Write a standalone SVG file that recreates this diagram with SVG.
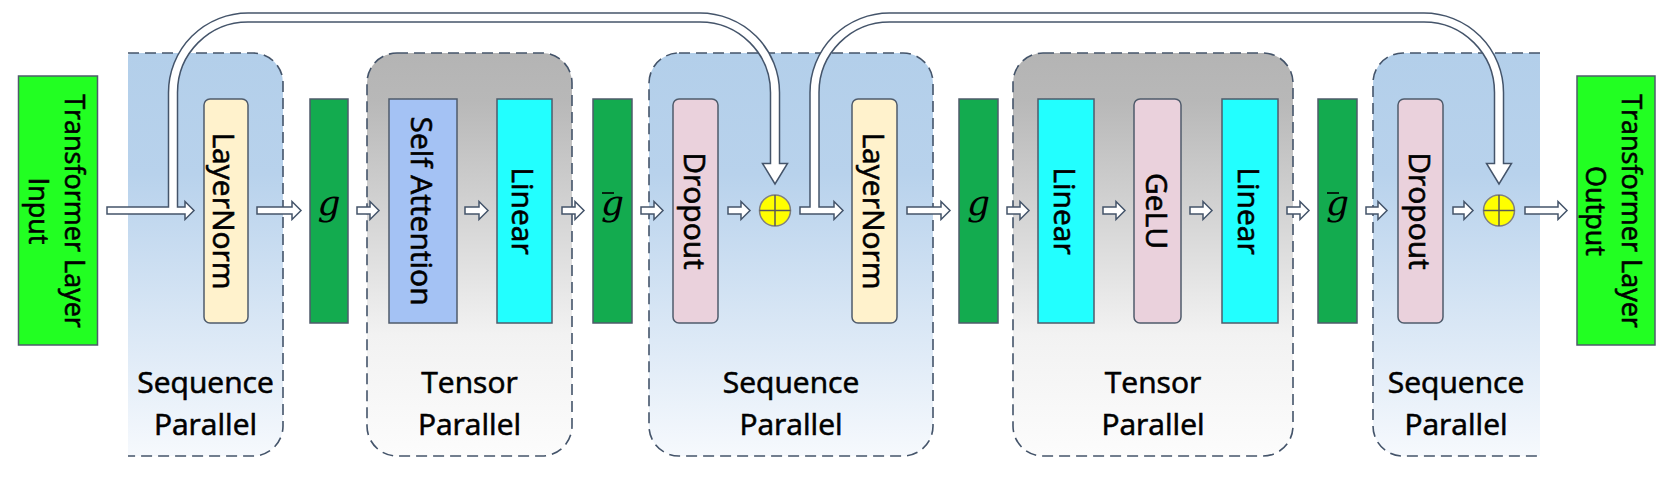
<svg xmlns="http://www.w3.org/2000/svg" width="1677" height="482" viewBox="0 0 1677 482">
<defs>
<linearGradient id="gSP" x1="0" y1="0" x2="0" y2="1">
<stop offset="0" stop-color="#b3cfea"/>
<stop offset="0.3" stop-color="#b8d2ec"/>
<stop offset="1" stop-color="#f6f9fd"/>
</linearGradient>
<linearGradient id="gTP" x1="0" y1="0" x2="0" y2="1">
<stop offset="0" stop-color="#b4b4b4"/>
<stop offset="0.12" stop-color="#b8b8b8"/>
<stop offset="0.7" stop-color="#f2f2f2"/>
<stop offset="1" stop-color="#fcfcfc"/>
</linearGradient>
</defs>
<style>
.sp{fill:url(#gSP);stroke:none}
.tp{fill:url(#gTP);stroke:none}
.dash{fill:none;stroke:#44546a;stroke-width:1.6;stroke-dasharray:11 6}
.lbl,.vt,.io{font-family:"Open Sans","Liberation Sans",sans-serif;font-size:30px;fill:#000;stroke:#000;stroke-width:0.6;text-anchor:middle}
.io{font-size:27px}
.box{stroke:#4f5b6b;stroke-width:1.5}
.io-box{fill:#22ff22}
.ln{fill:#fff2cc}
.dr{fill:#ead1dc}
.sa{fill:#a4c2f4}
.li{fill:#22ffff}
.gg{fill:#13ab4f}
.gt{font-family:"DejaVu Serif","Liberation Serif",serif;font-style:italic;font-size:36px;fill:#000;text-anchor:middle}
.bar{stroke:#000;stroke-width:1.6}
.arr{fill:#fff;stroke:#44546a;stroke-width:1.5;stroke-linejoin:miter}
.sko{fill:none;stroke:#44546a;stroke-width:10.5}
.ski{fill:none;stroke:#fff;stroke-width:7.5}
.plus{fill:#ffff00;stroke:#7f7f7f;stroke-width:1.5}
.cross{stroke:#595959;stroke-width:1.5}
</style>

<g id="sp1">
<path class="sp" d="M128,56 Q128,53 131,53 H253 A30,30 0 0 1 283,83 V426 A30,30 0 0 1 253,456 H128 Z"/>
<path class="dash" d="M128,53 H253 A30,30 0 0 1 283,83 V426 A30,30 0 0 1 253,456 H128"/>
<text class="lbl" x="205.5" y="393">Sequence</text>
<text class="lbl" x="205.5" y="435">Parallel</text>
</g>
<g id="tp1">
<rect class="tp" x="367" y="53" width="205" height="403" rx="30"/>
<rect class="dash" x="367" y="53" width="205" height="403" rx="30"/>
<text class="lbl" x="469.5" y="393">Tensor</text>
<text class="lbl" x="469.5" y="435">Parallel</text>
</g>
<g id="sp2">
<rect class="sp" x="649" y="53" width="284" height="403" rx="30"/>
<rect class="dash" x="649" y="53" width="284" height="403" rx="30"/>
<text class="lbl" x="791" y="393">Sequence</text>
<text class="lbl" x="791" y="435">Parallel</text>
</g>
<g id="tp2">
<rect class="tp" x="1013" y="53" width="280" height="403" rx="30"/>
<rect class="dash" x="1013" y="53" width="280" height="403" rx="30"/>
<text class="lbl" x="1153" y="393">Tensor</text>
<text class="lbl" x="1153" y="435">Parallel</text>
</g>
<g id="sp3">
<path class="sp" d="M1540,53 H1403 A30,30 0 0 0 1373,83 V426 A30,30 0 0 0 1403,456 H1540 Z"/>
<path class="dash" d="M1540,53 H1403 A30,30 0 0 0 1373,83 V426 A30,30 0 0 0 1403,456 H1540"/>
<text class="lbl" x="1456" y="393">Sequence</text>
<text class="lbl" x="1456" y="435">Parallel</text>
</g>

<g id="connectors">
<path class="sko" d="M173,207 V92.5 A75,75 0 0 1 248,17.5 H700 A75,75 0 0 1 775,92.5 V164"/>
<path class="sko" d="M814.5,207 V92.5 A75,75 0 0 1 889.5,17.5 H1424 A75,75 0 0 1 1499,92.5 V164"/>
<path class="arr" d="M107,207 H185 V201.5 L194,210.5 L185,219.5 V214 H107 Z"/>
<path class="arr" d="M257,207 H292 V201.5 L301,210.5 L292,219.5 V214 H257 Z"/>
<path class="arr" d="M357,207 H370 V201.5 L379,210.5 L370,219.5 V214 H357 Z"/>
<path class="arr" d="M465,207 H479 V201.5 L488,210.5 L479,219.5 V214 H465 Z"/>
<path class="arr" d="M562,207 H575 V201.5 L584,210.5 L575,219.5 V214 H562 Z"/>
<path class="arr" d="M641,207 H654 V201.5 L663,210.5 L654,219.5 V214 H641 Z"/>
<path class="arr" d="M728,207 H741 V201.5 L750,210.5 L741,219.5 V214 H728 Z"/>
<path class="arr" d="M800,207 H834 V201.5 L843,210.5 L834,219.5 V214 H800 Z"/>
<path class="arr" d="M907,207 H941 V201.5 L950,210.5 L941,219.5 V214 H907 Z"/>
<path class="arr" d="M1007,207 H1020 V201.5 L1029,210.5 L1020,219.5 V214 H1007 Z"/>
<path class="arr" d="M1103,207 H1116 V201.5 L1125,210.5 L1116,219.5 V214 H1103 Z"/>
<path class="arr" d="M1190,207 H1203 V201.5 L1212,210.5 L1203,219.5 V214 H1190 Z"/>
<path class="arr" d="M1287,207 H1300 V201.5 L1309,210.5 L1300,219.5 V214 H1287 Z"/>
<path class="arr" d="M1366,207 H1378 V201.5 L1387,210.5 L1378,219.5 V214 H1366 Z"/>
<path class="arr" d="M1453,207 H1464 V201.5 L1473,210.5 L1464,219.5 V214 H1453 Z"/>
<path class="arr" d="M1525,207 H1558 V201.5 L1567,210.5 L1558,219.5 V214 H1525 Z"/>
<path class="arr" d="M762.5,163.5 H787.5 L775,184 Z"/>
<path class="arr" d="M1486.5,163.5 H1511.5 L1499,184 Z"/>
<path class="ski" d="M173,208.7 V92.5 A75,75 0 0 1 248,17.5 H700 A75,75 0 0 1 775,92.5 V165.3"/>
<path class="ski" d="M814.5,208.7 V92.5 A75,75 0 0 1 889.5,17.5 H1424 A75,75 0 0 1 1499,92.5 V165.3"/>
</g>

<g id="input">
<rect class="box io-box" x="18.5" y="76" width="79" height="269"/>
<text class="io" transform="translate(65,211) rotate(90)">Transformer Layer</text>
<text class="io" transform="translate(29,211) rotate(90)">Input</text>
</g>
<g id="layernorm1">
<rect class="box ln" x="204" y="99" width="44" height="224" rx="6"/>
<text class="vt" transform="translate(213,211) rotate(90)">LayerNorm</text>
</g>
<g id="g1">
<rect class="box gg" x="310" y="99" width="38" height="224"/>
<text class="gt" x="329" y="215">g</text>
</g>
<g id="self-attention">
<rect class="box sa" x="389" y="99" width="68" height="224"/>
<text class="vt" transform="translate(411,211) rotate(90)">Self Attention</text>
</g>
<g id="linear1">
<rect class="box li" x="497" y="99" width="55" height="224"/>
<text class="vt" transform="translate(512,211) rotate(90)">Linear</text>
</g>
<g id="gbar1">
<rect class="box gg" x="593" y="99" width="39" height="224"/>
<text class="gt" x="612.5" y="215">g</text>
<line class="bar" x1="602" y1="193" x2="614" y2="193"/>
</g>
<g id="dropout1">
<rect class="box dr" x="673" y="99" width="45" height="224" rx="6"/>
<text class="vt" transform="translate(684,211) rotate(90)">Dropout</text>
</g>
<g id="add1">
<circle class="plus" cx="775" cy="210.5" r="15.5"/>
<line class="cross" x1="759.5" y1="210.5" x2="790.5" y2="210.5"/>
<line class="cross" x1="775" y1="195" x2="775" y2="226"/>
</g>
<g id="layernorm2">
<rect class="box ln" x="852" y="99" width="45" height="224" rx="6"/>
<text class="vt" transform="translate(863,211) rotate(90)">LayerNorm</text>
</g>
<g id="g2">
<rect class="box gg" x="959" y="99" width="39" height="224"/>
<text class="gt" x="978.5" y="215">g</text>
</g>
<g id="linear2">
<rect class="box li" x="1038" y="99" width="56" height="224"/>
<text class="vt" transform="translate(1054,211) rotate(90)">Linear</text>
</g>
<g id="gelu">
<rect class="box dr" x="1134" y="99" width="47" height="224" rx="6"/>
<text class="vt" transform="translate(1146,211) rotate(90)">GeLU</text>
</g>
<g id="linear3">
<rect class="box li" x="1222" y="99" width="56" height="224"/>
<text class="vt" transform="translate(1238,211) rotate(90)">Linear</text>
</g>
<g id="gbar2">
<rect class="box gg" x="1318" y="99" width="39" height="224"/>
<text class="gt" x="1337.5" y="215">g</text>
<line class="bar" x1="1327" y1="193" x2="1339" y2="193"/>
</g>
<g id="dropout2">
<rect class="box dr" x="1398" y="99" width="45" height="224" rx="6"/>
<text class="vt" transform="translate(1409,211) rotate(90)">Dropout</text>
</g>
<g id="add2">
<circle class="plus" cx="1499" cy="210.5" r="15.5"/>
<line class="cross" x1="1483.5" y1="210.5" x2="1514.5" y2="210.5"/>
<line class="cross" x1="1499" y1="195" x2="1499" y2="226"/>
</g>
<g id="output">
<rect class="box io-box" x="1577" y="76" width="78" height="269"/>
<text class="io" transform="translate(1622,211) rotate(90)">Transformer Layer</text>
<text class="io" transform="translate(1586,211) rotate(90)">Output</text>
</g>
</svg>
